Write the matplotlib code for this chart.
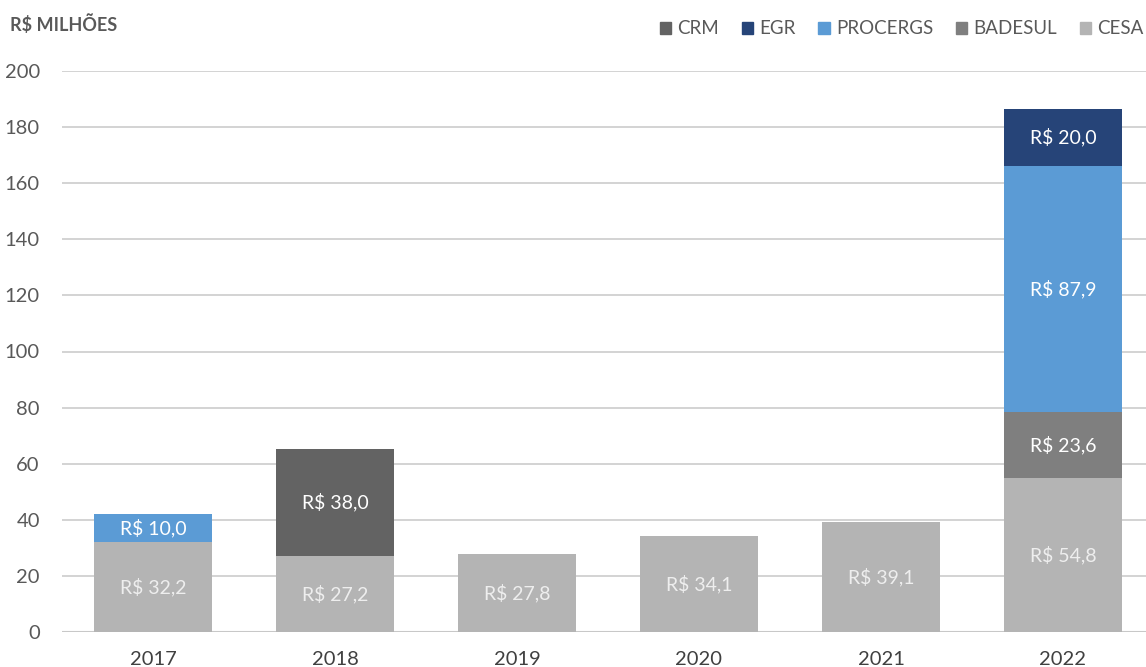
import matplotlib
matplotlib.use("Agg")
import matplotlib.pyplot as plt
from matplotlib.patches import Patch
import numpy as np

plt.rcParams['font.family'] = ['Lato', 'DejaVu Sans']

years = ["2017", "2018", "2019", "2020", "2021", "2022"]
cesa = [32.2, 27.2, 27.8, 34.1, 39.1, 54.8]
badesul = [0, 0, 0, 0, 0, 23.6]
procergs = [10.0, 0, 0, 0, 0, 87.9]
egr = [0, 0, 0, 0, 0, 20.0]
crm = [0, 38.0, 0, 0, 0, 0]
yticks = [0, 20, 40, 60, 80, 100, 120, 140, 160, 180, 200]

series = [("CESA", cesa, "#b4b4b4", "#eeeeee"),
          ("BADESUL", badesul, "#7f7f7f", "white"),
          ("PROCERGS", procergs, "#5b9bd5", "white"),
          ("EGR", egr, "#264478", "white"),
          ("CRM", crm, "#636363", "white")]

W, H = 1146, 667
fig = plt.figure(figsize=(W / 100, H / 100), dpi=100)
ax = fig.add_axes([62 / W, 35 / H, 1092 / W, 561 / H])

x = np.arange(len(years))
bottom = np.zeros(len(years))
handles = {}
for name, vals, col, tcol in series:
    vals = np.array(vals, dtype=float)
    ax.bar(x, vals, 0.643, bottom=bottom, color=col, zorder=3)
    handles[name] = Patch(color=col)
    for xi, v, b in zip(x, vals, bottom):
        if v > 0:
            ax.text(xi, b + v / 2, f"R$ {v:.1f}".replace(".", ","), ha="center",
                    va="center", color=tcol, fontsize=14, zorder=4)
    bottom += vals

ax.set_xlim(-0.5, len(years) - 0.5)
ax.set_ylim(0, 200)
ax.set_yticks(yticks)
ax.set_xticks(x)
ax.set_xticklabels(years, fontsize=14.5, color="#404040")
ax.tick_params(axis="y", labelsize=14.5, labelcolor="#595959", length=0, pad=16)
ax.tick_params(axis="x", length=0, pad=14)
ax.grid(axis="y", color="#d0d0d0", linewidth=1.3, zorder=0)
for s in ax.spines.values():
    s.set_visible(False)
ax.axhline(0, color="#c8c8c8", linewidth=1.5, zorder=2)

fig.text(10 / W, 1 - 24 / H, "R$ MILHÕES", fontsize=13, fontweight="bold",
         color="#595959", va="center", ha="left")

order = ["CRM", "EGR", "PROCERGS", "BADESUL", "CESA"]
fig.legend([handles[n] for n in order], order, ncol=5, frameon=False,
           loc="center right", bbox_to_anchor=(1144 / W, 1 - 29 / H),
           fontsize=13.5, labelcolor="#595959", handlelength=0.6, handleheight=0.6,
           handletextpad=0.35, columnspacing=1.2, borderaxespad=0, borderpad=0)

fig.savefig("out.png", dpi=100)
